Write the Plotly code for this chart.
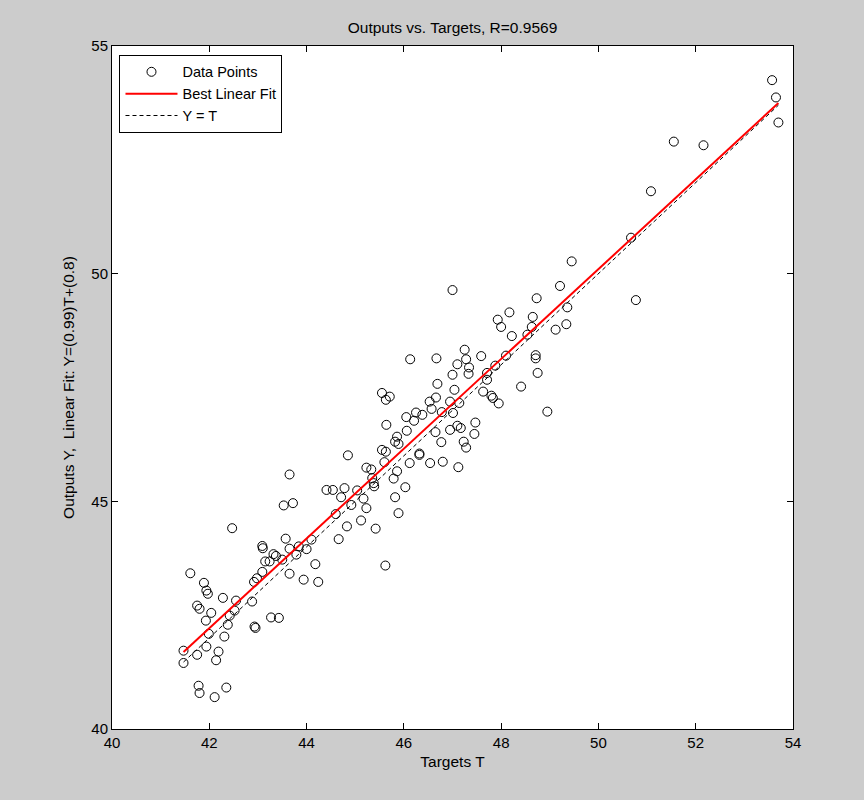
import plotly.graph_objects as go

# Network targets (T) and outputs (Y)
targets = [
    53.57, 53.65, 53.70, 51.55, 52.16, 51.08, 50.67, 50.77, 49.45, 49.21,
    48.73, 48.17, 47.93, 48.00, 48.65, 48.63, 48.54, 48.22, 49.36, 49.34,
    49.12, 47.59, 48.10, 48.71, 48.71, 48.75, 48.41, 47.88, 47.71, 47.71,
    47.63, 47.80, 47.83, 47.95, 48.95, 47.47, 47.45, 47.00, 46.13, 46.67,
    47.25, 47.28, 47.10, 47.34, 47.00, 47.33, 46.69, 45.55, 45.71, 45.63,
    47.04, 46.66, 46.53, 46.95, 47.14, 46.57, 46.78, 47.01, 46.25, 46.38,
    46.05, 46.21, 45.64, 47.10, 47.17, 46.95, 46.65, 46.06, 45.86, 45.82,
    45.89, 46.77, 47.23, 47.28, 46.32, 46.32, 46.12, 46.54, 46.80, 47.12,
    45.60, 45.86, 45.79, 45.39, 46.03, 45.82, 45.89, 45.23, 45.33, 45.35,
    45.38, 45.55, 45.63, 44.85, 43.65, 44.41, 44.54, 44.78, 44.71, 44.92,
    45.04, 45.17, 45.23, 43.53, 43.72, 44.60, 44.83, 45.12, 45.42, 44.66,
    43.57, 43.09, 43.10, 43.65, 43.84, 44.10, 44.00, 43.79, 43.32, 43.37,
    43.24, 43.15, 43.50, 44.18, 43.09, 43.65, 43.94, 44.24, 42.98, 42.92,
    45.62, 42.88, 43.27, 43.43, 41.61, 41.89, 41.94, 41.97, 42.28, 42.55,
    41.75, 41.80, 42.04, 42.52, 42.42, 41.93, 42.38, 41.99, 42.31, 41.94,
    41.47, 41.47, 41.75, 42.19, 42.14, 42.95, 42.93, 41.78, 41.80, 42.11,
    42.35, 42.47,
]
outputs = [
    54.25, 53.87, 53.32, 52.90, 52.82, 51.81, 50.79, 49.42, 50.27, 49.73,
    49.46, 49.15, 48.99, 48.83, 49.05, 48.83, 48.66, 48.63, 49.26, 48.89,
    48.77, 48.19, 48.20, 48.21, 48.14, 47.82, 47.52, 47.98, 47.82, 47.67,
    47.41, 47.32, 47.27, 47.15, 46.97, 46.73, 46.48, 49.64, 48.12, 48.14,
    48.33, 48.12, 48.01, 47.94, 47.78, 47.80, 47.58, 47.38, 47.30, 47.23,
    47.45, 47.28, 47.19, 47.19, 47.16, 47.03, 46.96, 46.94, 46.95, 46.90,
    46.85, 46.77, 46.68, 46.66, 46.61, 46.57, 46.52, 46.55, 46.42, 46.31,
    46.26, 46.30, 46.31, 46.18, 46.05, 46.02, 45.84, 45.84, 45.87, 45.75,
    45.86, 45.66, 45.50, 45.33, 45.31, 45.09, 44.74, 45.74, 45.70, 45.51,
    45.40, 46.13, 46.09, 46.01, 45.59, 45.25, 45.25, 45.29, 45.09, 44.92,
    45.24, 45.06, 44.85, 44.91, 44.96, 44.72, 44.45, 44.58, 44.40, 44.17,
    44.18, 44.02, 43.97, 43.96, 44.01, 44.16, 43.95, 43.83, 43.84, 43.80,
    43.68, 43.68, 43.72, 43.62, 43.45, 43.41, 43.28, 43.23, 43.31, 43.23,
    43.59, 42.80, 42.45, 42.44, 43.42, 43.21, 43.04, 42.97, 42.88, 42.82,
    42.71, 42.64, 42.55, 42.60, 42.49, 42.38, 42.29, 42.09, 42.03, 41.81,
    41.72, 41.45, 41.63, 41.70, 41.51, 42.22, 42.25, 40.95, 40.79, 40.70,
    40.91, 44.41,
]

# Linear regression Y = m*T + b and correlation coefficient
fit_slope = 0.986
fit_intercept = 0.8
r_value = 0.9569

x_ticks = [40, 42, 44, 46, 48, 50, 52, 54]
y_ticks = [40, 45, 50, 55]

t_min, t_max = min(targets), max(targets)
fit_x = [t_min, t_max]
fit_y = [fit_slope * t + fit_intercept for t in fit_x]

FONT = "Arial, Liberation Sans, sans-serif"
TEXT_SIZE = 15.5
TICK_SIZE = 15

fig = go.Figure()
fig.add_trace(go.Scatter(
    x=targets, y=outputs, mode="markers", name="Data Points",
    marker=dict(symbol="circle-open", size=9, color="black", line=dict(width=1)),
))
fig.add_trace(go.Scatter(
    x=fit_x, y=fit_y, mode="lines", name="Best Linear Fit",
    line=dict(color="#ff0000", width=2),
))
fig.add_trace(go.Scatter(
    x=fit_x, y=fit_x, mode="lines", name="Y = T",
    line=dict(color="black", width=1, dash="4px,3px"),
))

axis_common = dict(
    showgrid=False, zeroline=False, showline=True, linecolor="black",
    linewidth=1, mirror="allticks", ticks="inside", ticklen=6,
    tickcolor="black", tickfont=dict(family=FONT, size=TICK_SIZE, color="black"),
)

fig.update_layout(
    width=864, height=800,
    margin=dict(l=112, r=71, t=46, b=71),
    paper_bgcolor="#cccccc", plot_bgcolor="white",
    font=dict(family=FONT, size=TEXT_SIZE, color="black"),
    title=dict(
        text=f"Outputs vs. Targets, R={r_value:.4f}",
        x=0.5, xref="paper", y=1 - 28 / 800, yanchor="middle",
        font=dict(family=FONT, size=TEXT_SIZE, color="black"),
    ),
    xaxis=dict(
        range=[40, 54], tickvals=x_ticks,
        title=dict(text="Targets T", font=dict(family=FONT, size=TEXT_SIZE), standoff=6),
        **axis_common,
    ),
    yaxis=dict(
        range=[40, 55], tickvals=y_ticks,
        title=dict(
            text=f"Outputs Y,  Linear Fit: Y=({fit_slope:.2g})T+({fit_intercept:.2g})",
            font=dict(family=FONT, size=TEXT_SIZE), standoff=12,
        ),
        **axis_common,
    ),
    legend=dict(
        x=0.011, y=0.987, xanchor="left", yanchor="top",
        bgcolor="white", bordercolor="black", borderwidth=1,
        font=dict(family=FONT, size=14.5, color="black"),
        itemwidth=52, tracegroupgap=0,
    ),
    showlegend=True,
)

fig.write_html("out.html", config={"displayModeBar": False})
